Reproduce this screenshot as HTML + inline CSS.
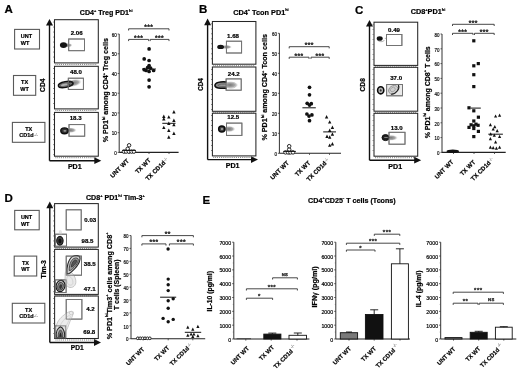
<!DOCTYPE html>
<html><head><meta charset="utf-8"><title>Figure</title><style>html,body{margin:0;padding:0;background:#fff;width:520px;height:371px;overflow:hidden}svg{display:block}</style></head><body>
<svg width="520" height="371" viewBox="0 0 520 371" font-family="'Liberation Sans', Arial, Helvetica, sans-serif" font-weight="bold">
<defs><radialGradient id="blobg"><stop offset="0" stop-color="#000"/><stop offset="0.55" stop-color="#111"/><stop offset="0.8" stop-color="#555"/><stop offset="1" stop-color="#999" stop-opacity="0"/></radialGradient><radialGradient id="blobl"><stop offset="0" stop-color="#777"/><stop offset="0.6" stop-color="#aaa"/><stop offset="1" stop-color="#ddd" stop-opacity="0"/></radialGradient></defs>
<style>text{stroke:#111;stroke-width:0.22px;paint-order:stroke}text.n{stroke:#222;stroke-width:0.2px}text.s{letter-spacing:0.45px;stroke:#222;stroke-width:0.3px;stroke-linejoin:round;text-rendering:geometricPrecision}</style>
<rect width="520" height="371" fill="#fff"/>
<text x="4.60" y="12.50" font-size="11.5">A</text>
<text x="198.90" y="12.90" font-size="11.5">B</text>
<text x="354.90" y="13.70" font-size="11.5">C</text>
<text x="4.40" y="202.30" font-size="11.5">D</text>
<text x="202.50" y="204.40" font-size="11.5">E</text>
<text x="79.80" y="14.80" font-size="7.1">CD4<tspan dy="-3.2" font-size="3.9">+</tspan><tspan dy="3.2"> Treg PD1</tspan><tspan dy="-3.2" font-size="3.9">hi</tspan></text>
<text x="233.20" y="14.50" font-size="7.3">CD4<tspan dy="-3.2" font-size="3.9">+</tspan><tspan dy="3.2"> Tcon PD1</tspan><tspan dy="-3.2" font-size="3.9">hi</tspan></text>
<text x="410.70" y="14.40" font-size="7.3">CD8<tspan dy="-3.2" font-size="3.9">+</tspan><tspan dy="3.2">PD1</tspan><tspan dy="-3.2" font-size="3.9">hi</tspan></text>
<text x="86.00" y="199.70" font-size="7.1">CD8<tspan dy="-3.2" font-size="3.9">+</tspan><tspan dy="3.2"> PD1</tspan><tspan dy="-3.2" font-size="3.9">hi</tspan><tspan dy="3.2"> Tim-3</tspan><tspan dy="-3.2" font-size="3.9">+</tspan></text>
<text x="308.10" y="202.50" font-size="7.15">CD4<tspan dy="-3.2" font-size="3.9">+</tspan><tspan dy="3.2">CD25</tspan><tspan dy="-3.2" font-size="3.9">-</tspan><tspan dy="3.2"> T cells (Tcons)</tspan></text>
<rect x="14.60" y="29.40" width="24.90" height="19.60" stroke="#5a5a5a" stroke-width="1.1" fill="none"/>
<text x="20.80" y="37.80" font-size="5.5">UNT</text>
<text x="20.80" y="44.60" font-size="5.5">WT</text>
<rect x="13.50" y="75.50" width="22.20" height="19.80" stroke="#5a5a5a" stroke-width="1.1" fill="none"/>
<text x="24.60" y="83.90" font-size="5.5" text-anchor="middle">TX</text>
<text x="24.60" y="90.70" font-size="5.5" text-anchor="middle">WT</text>
<rect x="12.40" y="122.40" width="32.50" height="19.90" stroke="#5a5a5a" stroke-width="1.1" fill="none"/>
<text x="28.65" y="130.80" font-size="5.5" text-anchor="middle">TX</text>
<text x="28.65" y="137.20" font-size="5.5" text-anchor="middle">CD1d<tspan dx="0.4" dy="-1.4" font-size="4.0" font-weight="normal" fill="#888" style="stroke:#aaa;stroke-width:0.1px">-/-</tspan></text>
<line x1="49.50" y1="24.00" x2="49.50" y2="160.70" stroke="#111" stroke-width="1.4"/>
<polygon points="46.00,25.60 49.50,19.00 53.00,25.60" fill="#111"/>
<line x1="49.50" y1="160.70" x2="95.30" y2="160.70" stroke="#111" stroke-width="1.4"/>
<polygon points="94.30,157.30 101.30,160.70 94.30,164.10" fill="#111"/>
<text transform="translate(45.30 85.20) rotate(-90)" font-size="6.7" text-anchor="middle" class="l">CD4</text>
<text x="74.80" y="169.30" font-size="7.1" text-anchor="middle" class="l">PD1</text>
<rect x="54.50" y="19.70" width="43.80" height="43.20" stroke="#262626" stroke-width="1.05" fill="none"/>
<line x1="55.50" y1="64.40" x2="97.30" y2="64.40" stroke="#555" stroke-width="0.9" stroke-dasharray="0.8 1.1"/>
<line x1="53.60" y1="21.70" x2="53.60" y2="61.90" stroke="#444" stroke-width="0.9" stroke-dasharray="0.7 4.3"/>
<rect x="54.50" y="66.30" width="43.80" height="42.60" stroke="#262626" stroke-width="1.05" fill="none"/>
<line x1="55.50" y1="110.40" x2="97.30" y2="110.40" stroke="#555" stroke-width="0.9" stroke-dasharray="0.8 1.1"/>
<line x1="53.60" y1="68.30" x2="53.60" y2="107.90" stroke="#444" stroke-width="0.9" stroke-dasharray="0.7 4.3"/>
<rect x="54.50" y="112.40" width="43.80" height="43.80" stroke="#262626" stroke-width="1.05" fill="none"/>
<line x1="55.50" y1="157.70" x2="97.30" y2="157.70" stroke="#555" stroke-width="0.9" stroke-dasharray="0.8 1.1"/>
<line x1="53.60" y1="114.40" x2="53.60" y2="155.20" stroke="#444" stroke-width="0.9" stroke-dasharray="0.7 4.3"/>
<rect x="68.70" y="39.00" width="15.80" height="11.70" stroke="#727272" stroke-width="0.9" fill="none"/>
<rect x="68.30" y="78.20" width="15.10" height="11.20" stroke="#727272" stroke-width="0.9" fill="none"/>
<rect x="69.00" y="124.60" width="15.70" height="11.60" stroke="#727272" stroke-width="0.9" fill="none"/>
<text x="76.60" y="34.50" font-size="6.1" text-anchor="middle">2.06</text>
<text x="76.00" y="74.20" font-size="6.1" text-anchor="middle">48.0</text>
<text x="75.60" y="120.40" font-size="6.1" text-anchor="middle">18.3</text>
<ellipse cx="68.00" cy="45.20" rx="4.50" ry="2.30" fill="url(#blobl)" transform="rotate(0 68.00 45.20)" opacity="1.0"/>
<ellipse cx="63.5" cy="45.1" rx="3.6" ry="2.9" fill="#141414"/>
<ellipse cx="73.50" cy="83.00" rx="8.50" ry="3.80" fill="url(#blobl)" transform="rotate(-12 73.50 83.00)" opacity="1.0"/>
<ellipse cx="65.6" cy="84.5" rx="7.4" ry="2.9" fill="#6a6a6a" stroke="#111" stroke-width="1.3" transform="rotate(-10 65.6 84.5)"/>
<ellipse cx="64.3" cy="84.8" rx="3.4" ry="1.0" fill="#b0b0b0" transform="rotate(-10 64.3 84.8)"/>
<ellipse cx="71.0" cy="83.6" rx="2.4" ry="1.9" fill="none" stroke="#222" stroke-width="0.9"/>
<ellipse cx="70.50" cy="130.20" rx="6.20" ry="2.80" fill="url(#blobl)" transform="rotate(0 70.50 130.20)" opacity="1.0"/>
<ellipse cx="64.5" cy="130.8" rx="3.7" ry="2.9" fill="#333" stroke="#0d0d0d" stroke-width="1.4"/>
<ellipse cx="64.9" cy="130.8" rx="1.5" ry="0.9" fill="#9a9a9a"/>
<rect x="68.70" y="39.00" width="15.80" height="11.70" stroke="#727272" stroke-width="0.9" fill="none"/>
<rect x="68.30" y="78.20" width="15.10" height="11.20" stroke="#727272" stroke-width="0.9" fill="none"/>
<rect x="69.00" y="124.60" width="15.70" height="11.60" stroke="#727272" stroke-width="0.9" fill="none"/>
<text transform="translate(107.80 90.20) rotate(-90)" font-size="7.12" text-anchor="middle">% PD1<tspan dy="-3.2" font-size="3.9">hi</tspan><tspan dy="3.2"> among CD4</tspan><tspan dy="-3.2" font-size="3.9">+</tspan><tspan dy="3.2"> Treg cells</tspan></text>
<line x1="119.20" y1="152.40" x2="119.20" y2="34.02" stroke="#333" stroke-width="1.0"/>
<line x1="117.70" y1="152.40" x2="119.20" y2="152.40" stroke="#333" stroke-width="0.8"/>
<text transform="translate(116.80 155.10) scale(0.8 1)" font-size="5.6" font-weight="normal" text-anchor="end" class="n">0</text>
<line x1="117.70" y1="132.67" x2="119.20" y2="132.67" stroke="#333" stroke-width="0.8"/>
<text transform="translate(116.80 135.37) scale(0.8 1)" font-size="5.6" font-weight="normal" text-anchor="end" class="n">10</text>
<line x1="117.70" y1="112.94" x2="119.20" y2="112.94" stroke="#333" stroke-width="0.8"/>
<text transform="translate(116.80 115.64) scale(0.8 1)" font-size="5.6" font-weight="normal" text-anchor="end" class="n">20</text>
<line x1="117.70" y1="93.21" x2="119.20" y2="93.21" stroke="#333" stroke-width="0.8"/>
<text transform="translate(116.80 95.91) scale(0.8 1)" font-size="5.6" font-weight="normal" text-anchor="end" class="n">30</text>
<line x1="117.70" y1="73.48" x2="119.20" y2="73.48" stroke="#333" stroke-width="0.8"/>
<text transform="translate(116.80 76.18) scale(0.8 1)" font-size="5.6" font-weight="normal" text-anchor="end" class="n">40</text>
<line x1="117.70" y1="53.75" x2="119.20" y2="53.75" stroke="#333" stroke-width="0.8"/>
<text transform="translate(116.80 56.45) scale(0.8 1)" font-size="5.6" font-weight="normal" text-anchor="end" class="n">50</text>
<line x1="117.70" y1="34.02" x2="119.20" y2="34.02" stroke="#333" stroke-width="0.8"/>
<text transform="translate(116.80 36.72) scale(0.8 1)" font-size="5.6" font-weight="normal" text-anchor="end" class="n">60</text>
<line x1="119.20" y1="152.40" x2="178.60" y2="152.40" stroke="#222" stroke-width="1.1"/>
<line x1="129.00" y1="152.40" x2="129.00" y2="154.00" stroke="#333" stroke-width="0.8"/>
<line x1="149.00" y1="152.40" x2="149.00" y2="154.00" stroke="#333" stroke-width="0.8"/>
<line x1="169.00" y1="152.40" x2="169.00" y2="154.00" stroke="#333" stroke-width="0.8"/>
<polyline points="128.60,30.50 128.60,28.80 169.00,28.80 169.00,30.50" fill="none" stroke="#333" stroke-width="0.9"/>
<text x="148.80" y="29.33" font-size="6.6" text-anchor="middle" fill="#222" class="s">***</text>
<polyline points="128.60,41.10 128.60,39.40 148.70,39.40 148.70,41.10" fill="none" stroke="#333" stroke-width="0.9"/>
<text x="138.65" y="39.93" font-size="6.6" text-anchor="middle" fill="#222" class="s">***</text>
<polyline points="150.20,41.10 150.20,39.40 169.00,39.40 169.00,41.10" fill="none" stroke="#333" stroke-width="0.9"/>
<text x="159.60" y="39.93" font-size="6.6" text-anchor="middle" fill="#222" class="s">***</text>
<circle cx="149.10" cy="48.90" r="1.85" fill="#111"/>
<circle cx="144.20" cy="58.90" r="1.85" fill="#111"/>
<circle cx="149.10" cy="60.50" r="1.85" fill="#111"/>
<circle cx="149.10" cy="65.60" r="1.85" fill="#111"/>
<circle cx="147.60" cy="67.50" r="1.85" fill="#111"/>
<circle cx="144.20" cy="69.70" r="1.85" fill="#111"/>
<circle cx="150.60" cy="68.20" r="1.85" fill="#111"/>
<circle cx="153.60" cy="70.50" r="1.85" fill="#111"/>
<circle cx="149.10" cy="71.50" r="1.85" fill="#111"/>
<circle cx="146.10" cy="70.50" r="1.85" fill="#111"/>
<circle cx="149.10" cy="80.10" r="1.85" fill="#111"/>
<circle cx="149.10" cy="86.80" r="1.85" fill="#111"/>
<line x1="142.00" y1="69.00" x2="156.00" y2="69.00" stroke="#111" stroke-width="0.9"/>
<polygon points="172.20,113.40 173.90,110.00 175.60,113.40" fill="#111"/>
<polygon points="162.10,118.00 163.80,114.60 165.50,118.00" fill="#111"/>
<polygon points="162.10,120.50 163.80,117.10 165.50,120.50" fill="#111"/>
<polygon points="167.10,118.60 168.80,115.20 170.50,118.60" fill="#111"/>
<polygon points="172.20,122.00 173.90,118.60 175.60,122.00" fill="#111"/>
<polygon points="167.10,125.00 168.80,121.60 170.50,125.00" fill="#111"/>
<polygon points="172.20,126.30 173.90,122.90 175.60,126.30" fill="#111"/>
<polygon points="162.10,129.10 163.80,125.70 165.50,129.10" fill="#111"/>
<polygon points="167.10,132.00 168.80,128.60 170.50,132.00" fill="#111"/>
<polygon points="172.20,134.90 173.90,131.50 175.60,134.90" fill="#111"/>
<polygon points="167.10,138.70 168.80,135.30 170.50,138.70" fill="#111"/>
<line x1="162.30" y1="123.30" x2="175.50" y2="123.30" stroke="#111" stroke-width="1.0"/>
<circle cx="123.90" cy="151.60" r="1.75" fill="white" stroke="#1a1a1a" stroke-width="0.95"/>
<circle cx="126.10" cy="151.60" r="1.75" fill="white" stroke="#1a1a1a" stroke-width="0.95"/>
<circle cx="128.80" cy="151.60" r="1.75" fill="white" stroke="#1a1a1a" stroke-width="0.95"/>
<circle cx="131.50" cy="151.60" r="1.75" fill="white" stroke="#1a1a1a" stroke-width="0.95"/>
<circle cx="133.90" cy="151.60" r="1.75" fill="white" stroke="#1a1a1a" stroke-width="0.95"/>
<circle cx="127.70" cy="148.80" r="1.75" fill="white" stroke="#1a1a1a" stroke-width="0.95"/>
<circle cx="129.10" cy="145.30" r="1.75" fill="white" stroke="#1a1a1a" stroke-width="0.95"/>
<line x1="122.30" y1="150.40" x2="135.80" y2="150.40" stroke="#111" stroke-width="1.0"/>
<text transform="translate(129.50 161.40) rotate(-45)" font-size="6.1" text-anchor="end">UNT WT</text>
<text transform="translate(151.10 160.70) rotate(-45)" font-size="6.1" text-anchor="end">TX WT</text>
<text transform="translate(169.00 160.00) rotate(-45)" font-size="6.1" text-anchor="end">TX CD1d<tspan dx="0.3" dy="-1.6" font-size="4.3" font-weight="normal" fill="#777" style="stroke:#999;stroke-width:0.1px">-/-</tspan></text>
<line x1="207.60" y1="23.60" x2="207.60" y2="159.60" stroke="#111" stroke-width="1.4"/>
<polygon points="204.10,25.20 207.60,18.60 211.10,25.20" fill="#111"/>
<line x1="207.60" y1="159.60" x2="252.00" y2="159.60" stroke="#111" stroke-width="1.4"/>
<polygon points="251.00,156.20 258.00,159.60 251.00,163.00" fill="#111"/>
<text transform="translate(202.70 84.50) rotate(-90)" font-size="6.3" text-anchor="middle" class="l">CD4</text>
<text x="232.60" y="168.10" font-size="7.1" text-anchor="middle" class="l">PD1</text>
<rect x="212.40" y="21.50" width="43.50" height="42.70" stroke="#262626" stroke-width="1.05" fill="none"/>
<line x1="213.40" y1="65.70" x2="254.90" y2="65.70" stroke="#555" stroke-width="0.9" stroke-dasharray="0.8 1.1"/>
<line x1="211.50" y1="23.50" x2="211.50" y2="63.20" stroke="#444" stroke-width="0.9" stroke-dasharray="0.7 4.3"/>
<rect x="212.40" y="67.00" width="43.50" height="44.30" stroke="#262626" stroke-width="1.05" fill="none"/>
<line x1="213.40" y1="112.80" x2="254.90" y2="112.80" stroke="#555" stroke-width="0.9" stroke-dasharray="0.8 1.1"/>
<line x1="211.50" y1="69.00" x2="211.50" y2="110.30" stroke="#444" stroke-width="0.9" stroke-dasharray="0.7 4.3"/>
<rect x="212.40" y="113.20" width="43.50" height="42.70" stroke="#262626" stroke-width="1.05" fill="none"/>
<line x1="213.40" y1="157.40" x2="254.90" y2="157.40" stroke="#555" stroke-width="0.9" stroke-dasharray="0.8 1.1"/>
<line x1="211.50" y1="115.20" x2="211.50" y2="154.90" stroke="#444" stroke-width="0.9" stroke-dasharray="0.7 4.3"/>
<rect x="226.40" y="41.20" width="15.20" height="11.80" stroke="#727272" stroke-width="0.9" fill="none"/>
<rect x="226.10" y="78.90" width="15.10" height="11.30" stroke="#727272" stroke-width="0.9" fill="none"/>
<rect x="226.50" y="123.10" width="15.40" height="12.30" stroke="#727272" stroke-width="0.9" fill="none"/>
<text x="233.00" y="38.00" font-size="6.1" text-anchor="middle">1.68</text>
<text x="233.70" y="75.50" font-size="6.1" text-anchor="middle">24.2</text>
<text x="233.20" y="119.10" font-size="6.1" text-anchor="middle">12.5</text>
<ellipse cx="226.50" cy="47.00" rx="5.50" ry="2.20" fill="url(#blobl)" transform="rotate(0 226.50 47.00)" opacity="1.0"/>
<ellipse cx="220.6" cy="46.9" rx="3.4" ry="2.2" fill="#141414"/>
<ellipse cx="230.00" cy="85.00" rx="8.50" ry="3.80" fill="url(#blobl)" transform="rotate(0 230.00 85.00)" opacity="1.0"/>
<ellipse cx="231.0" cy="85.2" rx="5.0" ry="2.9" fill="none" stroke="#b8b8b8" stroke-width="0.7"/>
<path d="M226.4,81.9 C220,81.3 215,82.6 214.9,85.2 C214.8,87.9 220,88.7 226.4,88.2" fill="#8a8a8a" stroke="#0f0f0f" stroke-width="1.5"/>
<path d="M226.2,84.3 C221.5,84 218.3,84.5 218.3,85.2 C218.3,86 221.5,86.2 226.2,86" fill="#c0c0c0" stroke="#444" stroke-width="0.7"/>
<ellipse cx="229.00" cy="129.00" rx="6.50" ry="3.20" fill="url(#blobl)" transform="rotate(0 229.00 129.00)" opacity="1.0"/>
<ellipse cx="221.8" cy="129.0" rx="3.1" ry="3.0" fill="#444" stroke="#0d0d0d" stroke-width="1.5"/>
<ellipse cx="222.0" cy="129.0" rx="1.2" ry="1.0" fill="#a5a5a5"/>
<rect x="226.40" y="41.20" width="15.20" height="11.80" stroke="#727272" stroke-width="0.9" fill="none"/>
<rect x="226.10" y="78.90" width="15.10" height="11.30" stroke="#727272" stroke-width="0.9" fill="none"/>
<rect x="226.50" y="123.10" width="15.40" height="12.30" stroke="#727272" stroke-width="0.9" fill="none"/>
<text transform="translate(267.30 87.30) rotate(-90)" font-size="7.18" text-anchor="middle">% PD1<tspan dy="-3.2" font-size="3.9">hi</tspan><tspan dy="3.2"> among CD4</tspan><tspan dy="-3.2" font-size="3.9">+</tspan><tspan dy="3.2"> Tcon cells</tspan></text>
<line x1="279.40" y1="153.30" x2="279.40" y2="33.30" stroke="#333" stroke-width="1.0"/>
<line x1="277.90" y1="153.30" x2="279.40" y2="153.30" stroke="#333" stroke-width="0.8"/>
<text transform="translate(277.00 156.00) scale(0.8 1)" font-size="5.6" font-weight="normal" text-anchor="end" class="n">0</text>
<line x1="277.90" y1="133.30" x2="279.40" y2="133.30" stroke="#333" stroke-width="0.8"/>
<text transform="translate(277.00 136.00) scale(0.8 1)" font-size="5.6" font-weight="normal" text-anchor="end" class="n">10</text>
<line x1="277.90" y1="113.30" x2="279.40" y2="113.30" stroke="#333" stroke-width="0.8"/>
<text transform="translate(277.00 116.00) scale(0.8 1)" font-size="5.6" font-weight="normal" text-anchor="end" class="n">20</text>
<line x1="277.90" y1="93.30" x2="279.40" y2="93.30" stroke="#333" stroke-width="0.8"/>
<text transform="translate(277.00 96.00) scale(0.8 1)" font-size="5.6" font-weight="normal" text-anchor="end" class="n">30</text>
<line x1="277.90" y1="73.30" x2="279.40" y2="73.30" stroke="#333" stroke-width="0.8"/>
<text transform="translate(277.00 76.00) scale(0.8 1)" font-size="5.6" font-weight="normal" text-anchor="end" class="n">40</text>
<line x1="277.90" y1="53.30" x2="279.40" y2="53.30" stroke="#333" stroke-width="0.8"/>
<text transform="translate(277.00 56.00) scale(0.8 1)" font-size="5.6" font-weight="normal" text-anchor="end" class="n">50</text>
<line x1="277.90" y1="33.30" x2="279.40" y2="33.30" stroke="#333" stroke-width="0.8"/>
<text transform="translate(277.00 36.00) scale(0.8 1)" font-size="5.6" font-weight="normal" text-anchor="end" class="n">60</text>
<line x1="279.40" y1="153.30" x2="341.00" y2="153.30" stroke="#222" stroke-width="1.1"/>
<line x1="289.20" y1="153.30" x2="289.20" y2="154.90" stroke="#333" stroke-width="0.8"/>
<line x1="309.50" y1="153.30" x2="309.50" y2="154.90" stroke="#333" stroke-width="0.8"/>
<line x1="329.50" y1="153.30" x2="329.50" y2="154.90" stroke="#333" stroke-width="0.8"/>
<polyline points="289.20,48.40 289.20,46.70 329.20,46.70 329.20,48.40" fill="none" stroke="#333" stroke-width="0.9"/>
<text x="309.20" y="47.23" font-size="6.6" text-anchor="middle" fill="#222" class="s">***</text>
<polyline points="289.20,58.90 289.20,57.20 309.00,57.20 309.00,58.90" fill="none" stroke="#333" stroke-width="0.9"/>
<text x="299.10" y="57.73" font-size="6.6" text-anchor="middle" fill="#222" class="s">***</text>
<polyline points="311.00,58.90 311.00,57.20 329.20,57.20 329.20,58.90" fill="none" stroke="#333" stroke-width="0.9"/>
<text x="320.10" y="57.73" font-size="6.6" text-anchor="middle" fill="#222" class="s">***</text>
<circle cx="309.50" cy="87.30" r="1.85" fill="#111"/>
<circle cx="309.50" cy="94.80" r="1.85" fill="#111"/>
<circle cx="307.20" cy="103.30" r="1.85" fill="#111"/>
<circle cx="311.30" cy="103.70" r="1.85" fill="#111"/>
<circle cx="309.50" cy="105.10" r="1.85" fill="#111"/>
<circle cx="306.90" cy="114.00" r="1.85" fill="#111"/>
<circle cx="311.90" cy="114.90" r="1.85" fill="#111"/>
<circle cx="309.00" cy="116.10" r="1.85" fill="#111"/>
<circle cx="309.50" cy="120.70" r="1.85" fill="#111"/>
<line x1="302.40" y1="107.80" x2="315.80" y2="107.80" stroke="#111" stroke-width="1.0"/>
<polygon points="324.90,118.40 326.60,115.00 328.30,118.40" fill="#111"/>
<polygon points="328.00,123.60 329.70,120.20 331.40,123.60" fill="#111"/>
<polygon points="330.70,129.00 332.40,125.60 334.10,129.00" fill="#111"/>
<polygon points="328.00,131.90 329.70,128.50 331.40,131.90" fill="#111"/>
<polygon points="325.30,138.00 327.00,134.60 328.70,138.00" fill="#111"/>
<polygon points="328.00,138.70 329.70,135.30 331.40,138.70" fill="#111"/>
<polygon points="330.70,135.70 332.40,132.30 334.10,135.70" fill="#111"/>
<polygon points="328.00,146.80 329.70,143.40 331.40,146.80" fill="#111"/>
<polygon points="330.70,145.40 332.40,142.00 334.10,145.40" fill="#111"/>
<line x1="323.20" y1="131.90" x2="336.00" y2="131.90" stroke="#111" stroke-width="1.0"/>
<circle cx="285.50" cy="152.40" r="1.75" fill="white" stroke="#1a1a1a" stroke-width="0.95"/>
<circle cx="288.00" cy="152.40" r="1.75" fill="white" stroke="#1a1a1a" stroke-width="0.95"/>
<circle cx="290.50" cy="152.40" r="1.75" fill="white" stroke="#1a1a1a" stroke-width="0.95"/>
<circle cx="293.00" cy="152.40" r="1.75" fill="white" stroke="#1a1a1a" stroke-width="0.95"/>
<circle cx="289.20" cy="149.50" r="1.75" fill="white" stroke="#1a1a1a" stroke-width="0.95"/>
<circle cx="289.20" cy="146.20" r="1.75" fill="white" stroke="#1a1a1a" stroke-width="0.95"/>
<line x1="283.30" y1="151.40" x2="295.90" y2="151.40" stroke="#111" stroke-width="1.0"/>
<text transform="translate(289.50 163.30) rotate(-45)" font-size="6.1" text-anchor="end">UNT WT</text>
<text transform="translate(310.80 163.30) rotate(-45)" font-size="6.1" text-anchor="end">TX WT</text>
<text transform="translate(330.00 160.60) rotate(-45)" font-size="6.1" text-anchor="end">TX CD1d<tspan dx="0.3" dy="-1.6" font-size="4.3" font-weight="normal" fill="#777" style="stroke:#999;stroke-width:0.1px">-/-</tspan></text>
<line x1="369.50" y1="25.00" x2="369.50" y2="160.20" stroke="#111" stroke-width="1.4"/>
<polygon points="366.00,26.60 369.50,20.00 373.00,26.60" fill="#111"/>
<line x1="369.50" y1="160.20" x2="415.20" y2="160.20" stroke="#111" stroke-width="1.4"/>
<polygon points="414.20,156.80 421.20,160.20 414.20,163.60" fill="#111"/>
<text transform="translate(364.80 84.80) rotate(-90)" font-size="6.6" text-anchor="middle" class="l">CD8</text>
<text x="395.20" y="168.50" font-size="7.1" text-anchor="middle" class="l">PD1</text>
<rect x="374.00" y="22.20" width="43.70" height="43.20" stroke="#262626" stroke-width="1.05" fill="none"/>
<line x1="375.00" y1="66.90" x2="416.70" y2="66.90" stroke="#555" stroke-width="0.9" stroke-dasharray="0.8 1.1"/>
<line x1="373.10" y1="24.20" x2="373.10" y2="64.40" stroke="#444" stroke-width="0.9" stroke-dasharray="0.7 4.3"/>
<rect x="374.00" y="67.30" width="43.70" height="43.90" stroke="#262626" stroke-width="1.05" fill="none"/>
<line x1="375.00" y1="112.70" x2="416.70" y2="112.70" stroke="#555" stroke-width="0.9" stroke-dasharray="0.8 1.1"/>
<line x1="373.10" y1="69.30" x2="373.10" y2="110.20" stroke="#444" stroke-width="0.9" stroke-dasharray="0.7 4.3"/>
<rect x="374.00" y="113.30" width="43.70" height="42.90" stroke="#262626" stroke-width="1.05" fill="none"/>
<line x1="375.00" y1="157.70" x2="416.70" y2="157.70" stroke="#555" stroke-width="0.9" stroke-dasharray="0.8 1.1"/>
<line x1="373.10" y1="115.30" x2="373.10" y2="155.20" stroke="#444" stroke-width="0.9" stroke-dasharray="0.7 4.3"/>
<rect x="386.50" y="34.50" width="15.40" height="11.00" stroke="#727272" stroke-width="0.9" fill="none"/>
<rect x="386.70" y="84.50" width="15.70" height="11.30" stroke="#727272" stroke-width="0.9" fill="none"/>
<rect x="389.00" y="132.30" width="16.00" height="11.90" stroke="#727272" stroke-width="0.9" fill="none"/>
<text x="394.00" y="31.50" font-size="6.1" text-anchor="middle">0.49</text>
<text x="396.10" y="79.60" font-size="6.1" text-anchor="middle">37.0</text>
<text x="396.70" y="129.50" font-size="6.1" text-anchor="middle">13.0</text>
<path d="M377.7,40.2 C379,42.3 383,42.2 384.6,40.0" fill="none" stroke="#aaa" stroke-width="0.9"/>
<ellipse cx="379.7" cy="38.5" rx="3.0" ry="2.3" fill="#111"/>
<ellipse cx="385.8" cy="38.3" rx="1.2" ry="0.6" fill="#bbb"/>
<rect x="387" y="85" width="14.4" height="10" fill="#e9e9e9"/>
<ellipse cx="393.3" cy="89.8" rx="5.0" ry="4.0" fill="#cfcfcf" stroke="#888" stroke-width="0.8" transform="rotate(-35 393.3 89.8)"/>
<path d="M398.3,85.0 C400.2,88.6 396.5,93.6 391.2,94.4" fill="none" stroke="#222" stroke-width="1.2"/>
<ellipse cx="392.8" cy="89.5" rx="2.6" ry="2.0" fill="none" stroke="#999" stroke-width="0.7" transform="rotate(-35 392.8 89.5)"/>
<ellipse cx="380.7" cy="90.3" rx="3.1" ry="3.6" fill="#b5b5b5" stroke="#0a0a0a" stroke-width="1.6"/>
<ellipse cx="380.7" cy="90.4" rx="1.0" ry="1.1" fill="#333"/>
<ellipse cx="391.00" cy="137.80" rx="7.00" ry="3.00" fill="url(#blobl)" transform="rotate(0 391.00 137.80)" opacity="1.0"/>
<ellipse cx="385.5" cy="137.6" rx="3.5" ry="3.0" fill="#222" stroke="#0d0d0d" stroke-width="1.0"/>
<ellipse cx="386.0" cy="137.5" rx="2.2" ry="0.5" fill="#8a8a8a"/>
<rect x="386.50" y="34.50" width="15.40" height="11.00" stroke="#727272" stroke-width="0.9" fill="none"/>
<rect x="386.70" y="84.50" width="15.70" height="11.30" stroke="#727272" stroke-width="0.9" fill="none"/>
<rect x="389.00" y="132.30" width="16.00" height="11.90" stroke="#727272" stroke-width="0.9" fill="none"/>
<text transform="translate(429.50 92.30) rotate(-90)" font-size="7.0" text-anchor="middle">% PD1<tspan dy="-3.2" font-size="3.9">hi</tspan><tspan dy="3.2"> among CD8</tspan><tspan dy="-3.2" font-size="3.9">+</tspan><tspan dy="3.2"> T cells</tspan></text>
<line x1="442.00" y1="152.40" x2="442.00" y2="34.00" stroke="#333" stroke-width="1.0"/>
<line x1="440.50" y1="152.40" x2="442.00" y2="152.40" stroke="#333" stroke-width="0.8"/>
<text transform="translate(439.60 155.10) scale(0.8 1)" font-size="5.6" font-weight="normal" text-anchor="end" class="n">0</text>
<line x1="440.50" y1="137.60" x2="442.00" y2="137.60" stroke="#333" stroke-width="0.8"/>
<text transform="translate(439.60 140.30) scale(0.8 1)" font-size="5.6" font-weight="normal" text-anchor="end" class="n">10</text>
<line x1="440.50" y1="122.80" x2="442.00" y2="122.80" stroke="#333" stroke-width="0.8"/>
<text transform="translate(439.60 125.50) scale(0.8 1)" font-size="5.6" font-weight="normal" text-anchor="end" class="n">20</text>
<line x1="440.50" y1="108.00" x2="442.00" y2="108.00" stroke="#333" stroke-width="0.8"/>
<text transform="translate(439.60 110.70) scale(0.8 1)" font-size="5.6" font-weight="normal" text-anchor="end" class="n">30</text>
<line x1="440.50" y1="93.20" x2="442.00" y2="93.20" stroke="#333" stroke-width="0.8"/>
<text transform="translate(439.60 95.90) scale(0.8 1)" font-size="5.6" font-weight="normal" text-anchor="end" class="n">40</text>
<line x1="440.50" y1="78.40" x2="442.00" y2="78.40" stroke="#333" stroke-width="0.8"/>
<text transform="translate(439.60 81.10) scale(0.8 1)" font-size="5.6" font-weight="normal" text-anchor="end" class="n">50</text>
<line x1="440.50" y1="63.60" x2="442.00" y2="63.60" stroke="#333" stroke-width="0.8"/>
<text transform="translate(439.60 66.30) scale(0.8 1)" font-size="5.6" font-weight="normal" text-anchor="end" class="n">60</text>
<line x1="440.50" y1="48.80" x2="442.00" y2="48.80" stroke="#333" stroke-width="0.8"/>
<text transform="translate(439.60 51.50) scale(0.8 1)" font-size="5.6" font-weight="normal" text-anchor="end" class="n">70</text>
<line x1="440.50" y1="34.00" x2="442.00" y2="34.00" stroke="#333" stroke-width="0.8"/>
<text transform="translate(439.60 36.70) scale(0.8 1)" font-size="5.6" font-weight="normal" text-anchor="end" class="n">80</text>
<line x1="442.00" y1="152.40" x2="505.70" y2="152.40" stroke="#222" stroke-width="1.1"/>
<line x1="453.50" y1="152.40" x2="453.50" y2="154.00" stroke="#333" stroke-width="0.8"/>
<line x1="474.00" y1="152.40" x2="474.00" y2="154.00" stroke="#333" stroke-width="0.8"/>
<line x1="494.50" y1="152.40" x2="494.50" y2="154.00" stroke="#333" stroke-width="0.8"/>
<polyline points="452.50,26.00 452.50,24.30 494.20,24.30 494.20,26.00" fill="none" stroke="#333" stroke-width="0.9"/>
<text x="473.35" y="24.83" font-size="6.6" text-anchor="middle" fill="#222" class="s">***</text>
<polyline points="452.50,35.00 452.50,33.30 473.00,33.30 473.00,35.00" fill="none" stroke="#333" stroke-width="0.9"/>
<text x="462.75" y="33.83" font-size="6.6" text-anchor="middle" fill="#222" class="s">***</text>
<polyline points="474.50,35.00 474.50,33.30 494.20,33.30 494.20,35.00" fill="none" stroke="#333" stroke-width="0.9"/>
<text x="484.35" y="33.83" font-size="6.6" text-anchor="middle" fill="#222" class="s">***</text>
<rect x="472.20" y="39.20" width="3.2" height="3.2" fill="#111"/>
<rect x="476.70" y="62.00" width="3.2" height="3.2" fill="#111"/>
<rect x="472.20" y="64.20" width="3.2" height="3.2" fill="#111"/>
<rect x="472.20" y="73.10" width="3.2" height="3.2" fill="#111"/>
<rect x="472.20" y="85.00" width="3.2" height="3.2" fill="#111"/>
<rect x="467.40" y="106.20" width="3.2" height="3.2" fill="#111"/>
<rect x="472.20" y="109.20" width="3.2" height="3.2" fill="#111"/>
<rect x="476.80" y="115.60" width="3.2" height="3.2" fill="#111"/>
<rect x="472.20" y="119.40" width="3.2" height="3.2" fill="#111"/>
<rect x="469.50" y="123.20" width="3.2" height="3.2" fill="#111"/>
<rect x="467.40" y="125.80" width="3.2" height="3.2" fill="#111"/>
<rect x="472.20" y="124.20" width="3.2" height="3.2" fill="#111"/>
<rect x="476.50" y="123.70" width="3.2" height="3.2" fill="#111"/>
<rect x="472.20" y="126.90" width="3.2" height="3.2" fill="#111"/>
<rect x="474.40" y="122.60" width="3.2" height="3.2" fill="#111"/>
<rect x="476.80" y="129.80" width="3.2" height="3.2" fill="#111"/>
<rect x="472.20" y="135.00" width="3.2" height="3.2" fill="#111"/>
<line x1="470.60" y1="108.10" x2="480.80" y2="108.10" stroke="#111" stroke-width="1.0"/>
<polygon points="494.00,117.60 495.60,114.40 497.20,117.60" fill="#111"/>
<polygon points="498.00,116.80 499.60,113.60 501.20,116.80" fill="#111"/>
<polygon points="488.80,126.20 490.40,123.00 492.00,126.20" fill="#111"/>
<polygon points="493.20,128.20 494.80,125.00 496.40,128.20" fill="#111"/>
<polygon points="491.60,130.60 493.20,127.40 494.80,130.60" fill="#111"/>
<polygon points="495.60,132.20 497.20,129.00 498.80,132.20" fill="#111"/>
<polygon points="489.10,135.40 490.70,132.20 492.30,135.40" fill="#111"/>
<polygon points="492.70,136.70 494.30,133.50 495.90,136.70" fill="#111"/>
<polygon points="498.00,137.90 499.60,134.70 501.20,137.90" fill="#111"/>
<polygon points="488.80,140.30 490.40,137.10 492.00,140.30" fill="#111"/>
<polygon points="494.00,143.50 495.60,140.30 497.20,143.50" fill="#111"/>
<polygon points="488.80,148.70 490.40,145.50 492.00,148.70" fill="#111"/>
<polygon points="491.60,149.20 493.20,146.00 494.80,149.20" fill="#111"/>
<polygon points="494.80,149.70 496.40,146.50 498.00,149.70" fill="#111"/>
<polygon points="498.00,148.70 499.60,145.50 501.20,148.70" fill="#111"/>
<line x1="488.30" y1="134.20" x2="502.90" y2="134.20" stroke="#111" stroke-width="1.0"/>
<ellipse cx="452.8" cy="151.2" rx="6.3" ry="1.7" fill="#111"/>
<text transform="translate(453.90 162.40) rotate(-45)" font-size="6.1" text-anchor="end">UNT WT</text>
<text transform="translate(475.80 162.60) rotate(-45)" font-size="6.1" text-anchor="end">TX WT</text>
<text transform="translate(494.30 160.20) rotate(-45)" font-size="6.1" text-anchor="end">TX CD1d<tspan dx="0.3" dy="-1.6" font-size="4.3" font-weight="normal" fill="#777" style="stroke:#999;stroke-width:0.1px">-/-</tspan></text>
<rect x="14.70" y="210.40" width="24.50" height="19.40" stroke="#5a5a5a" stroke-width="1.1" fill="none"/>
<text x="20.90" y="218.80" font-size="5.5">UNT</text>
<text x="20.90" y="225.60" font-size="5.5">WT</text>
<rect x="14.20" y="256.10" width="22.50" height="19.90" stroke="#5a5a5a" stroke-width="1.1" fill="none"/>
<text x="25.45" y="264.50" font-size="5.5" text-anchor="middle">TX</text>
<text x="25.45" y="271.30" font-size="5.5" text-anchor="middle">WT</text>
<rect x="12.30" y="303.30" width="32.50" height="19.70" stroke="#5a5a5a" stroke-width="1.1" fill="none"/>
<text x="28.55" y="311.70" font-size="5.5" text-anchor="middle">TX</text>
<text x="28.55" y="318.10" font-size="5.5" text-anchor="middle">CD1d<tspan dx="0.4" dy="-1.4" font-size="4.0" font-weight="normal" fill="#888" style="stroke:#aaa;stroke-width:0.1px">-/-</tspan></text>
<line x1="49.80" y1="206.60" x2="49.80" y2="342.50" stroke="#111" stroke-width="1.4"/>
<polygon points="46.30,208.20 49.80,201.60 53.30,208.20" fill="#111"/>
<line x1="49.80" y1="342.50" x2="95.00" y2="342.50" stroke="#111" stroke-width="1.4"/>
<polygon points="94.00,339.10 101.00,342.50 94.00,345.90" fill="#111"/>
<text transform="translate(46.20 269.30) rotate(-90)" font-size="6.9" text-anchor="middle" class="l">Tim-3</text>
<text x="77.20" y="350.40" font-size="6.6" text-anchor="middle" class="l">PD1</text>
<rect x="54.60" y="203.60" width="43.70" height="43.50" stroke="#262626" stroke-width="1.05" fill="none"/>
<line x1="55.60" y1="248.60" x2="97.30" y2="248.60" stroke="#555" stroke-width="0.9" stroke-dasharray="0.8 1.1"/>
<line x1="53.70" y1="205.60" x2="53.70" y2="246.10" stroke="#444" stroke-width="0.9" stroke-dasharray="0.7 4.3"/>
<rect x="54.60" y="249.40" width="43.70" height="45.00" stroke="#262626" stroke-width="1.05" fill="none"/>
<line x1="55.60" y1="295.90" x2="97.30" y2="295.90" stroke="#555" stroke-width="0.9" stroke-dasharray="0.8 1.1"/>
<line x1="53.70" y1="251.40" x2="53.70" y2="293.40" stroke="#444" stroke-width="0.9" stroke-dasharray="0.7 4.3"/>
<rect x="54.60" y="296.00" width="43.70" height="42.50" stroke="#262626" stroke-width="1.05" fill="none"/>
<line x1="55.60" y1="340.00" x2="97.30" y2="340.00" stroke="#555" stroke-width="0.9" stroke-dasharray="0.8 1.1"/>
<line x1="53.70" y1="298.00" x2="53.70" y2="337.50" stroke="#444" stroke-width="0.9" stroke-dasharray="0.7 4.3"/>
<rect x="66.20" y="209.80" width="15.00" height="20.10" stroke="#727272" stroke-width="0.9" fill="none"/>
<rect x="55.30" y="234.20" width="11.20" height="12.00" stroke="#727272" stroke-width="0.9" fill="none"/>
<rect x="66.20" y="256.10" width="15.30" height="19.10" stroke="#727272" stroke-width="0.9" fill="none"/>
<rect x="55.30" y="279.90" width="10.80" height="12.60" stroke="#727272" stroke-width="0.9" fill="none"/>
<rect x="66.20" y="299.50" width="15.70" height="19.60" stroke="#727272" stroke-width="0.9" fill="none"/>
<rect x="55.10" y="325.90" width="10.70" height="11.90" stroke="#727272" stroke-width="0.9" fill="none"/>
<text x="90.30" y="221.80" font-size="6.1" text-anchor="middle">0.03</text>
<text x="87.50" y="243.20" font-size="6.1" text-anchor="middle">98.5</text>
<text x="89.70" y="266.10" font-size="6.1" text-anchor="middle">38.5</text>
<text x="89.70" y="290.80" font-size="6.1" text-anchor="middle">47.1</text>
<text x="90.40" y="311.30" font-size="6.1" text-anchor="middle">4.2</text>
<text x="89.30" y="334.40" font-size="6.1" text-anchor="middle">69.8</text>
<ellipse cx="60.4" cy="233" rx="1.6" ry="3" fill="#e4e4e4"/>
<ellipse cx="59.9" cy="240.8" rx="3.2" ry="4.3" fill="#444" stroke="#111" stroke-width="1.1"/>
<ellipse cx="59.9" cy="241" rx="1.6" ry="2.6" fill="#111"/>
<path d="M66.5,271 C70,270 74,274 75.5,279 C77,284 74,288 70,287.5 C66.5,287 64.5,283 65,279 C65.4,275.5 64.5,271.8 66.5,271 Z" fill="#eaeaea" stroke="#b5b5b5" stroke-width="0.7"/>
<path d="M68,276 C71,276 73.5,280 72.8,283.5 C72,286 68.5,285.5 67.5,283 C66.6,280.5 66.4,276.4 68,276 Z" fill="none" stroke="#c4c4c4" stroke-width="0.6"/>
<path d="M67.0,274 C66.2,268 68.3,259 72.6,256.4 C75.8,254.6 80.4,255.4 80.1,258.6 C79.8,262.3 77.2,266.3 74.1,269.3 C71.6,271.8 68.8,274.6 67.0,274 Z" fill="#cfcfcf" stroke="#2a2a2a" stroke-width="1.1"/>
<path d="M69.2,270.5 C69,266 70.6,260.5 73.6,258.6 C76,257.3 78.7,258 78.4,260.2 C78.1,262.8 76.2,265.3 74,267.4 C72.2,269.1 70.4,271 69.2,270.5 Z" fill="#9a9a9a" stroke="#333" stroke-width="0.8"/>
<path d="M71.3,267 C71.4,264.2 72.6,261.2 74.4,260.2 C75.8,259.5 77,260 76.7,261.3 C76.4,262.8 75.2,264.3 73.9,265.5 C72.8,266.4 71.8,267.3 71.3,267 Z" fill="#555" stroke="#222" stroke-width="0.6"/>
<ellipse cx="60.5" cy="286" rx="4.4" ry="5.7" fill="#c8c8c8" stroke="#1a1a1a" stroke-width="1.2" transform="rotate(12 60.5 286)"/>
<ellipse cx="60.5" cy="286.3" rx="2.8" ry="4.0" fill="#888" stroke="#333" stroke-width="0.8" transform="rotate(12 60.5 286.3)"/>
<ellipse cx="60.6" cy="286.6" rx="1.4" ry="2.4" fill="#333" transform="rotate(12 60.6 286.6)"/>
<path d="M56,328 C56.5,322 60,318 64,315 C67,312.5 70.5,310.5 72.5,312 C74,314 71.5,318 70,321.5 C68.5,325 67.5,330 65,332 C61,334 56,333 56,328 Z" fill="#ececec" stroke="#b8b8b8" stroke-width="0.7"/>
<path d="M60,326 C61.5,322 65,318.5 68,316 C70,315 71,316 70,318 C68.5,321 67,325 65,327.5 C63,329 60,328.5 60,326 Z" fill="none" stroke="#c6c6c6" stroke-width="0.6"/>
<ellipse cx="71.5" cy="313" rx="2.2" ry="1.8" fill="none" stroke="#bdbdbd" stroke-width="0.6"/>
<path d="M56.3,337.6 C55.8,333 57.2,328.2 60.4,326.8 C63.6,328 65.2,332.8 64.7,337.6 Z" fill="#bcbcbc" stroke="#1e1e1e" stroke-width="1.1"/>
<path d="M58.2,337 C58,334 58.8,330.8 60.5,329.8 C62.2,330.8 63,334 62.8,337 Z" fill="#777" stroke="#333" stroke-width="0.7"/>
<path d="M59.5,336.8 C59.4,335 59.8,333.2 60.5,332.6 C61.2,333.2 61.6,335 61.5,336.8 Z" fill="#222"/>
<rect x="66.20" y="209.80" width="15.00" height="20.10" stroke="#727272" stroke-width="0.9" fill="none"/>
<rect x="55.30" y="234.20" width="11.20" height="12.00" stroke="#727272" stroke-width="0.9" fill="none"/>
<rect x="66.20" y="256.10" width="15.30" height="19.10" stroke="#727272" stroke-width="0.9" fill="none"/>
<rect x="55.30" y="279.90" width="10.80" height="12.60" stroke="#727272" stroke-width="0.9" fill="none"/>
<rect x="66.20" y="299.50" width="15.70" height="19.60" stroke="#727272" stroke-width="0.9" fill="none"/>
<rect x="55.10" y="325.90" width="10.70" height="11.90" stroke="#727272" stroke-width="0.9" fill="none"/>
<text transform="translate(111.60 285.90) rotate(-90)" font-size="7.18" text-anchor="middle">% PD1<tspan dy="-3.2" font-size="3.9">hi</tspan><tspan dy="3.2">Tim3</tspan><tspan dy="-3.2" font-size="3.9">+</tspan><tspan dy="3.2"> cells among CD8</tspan><tspan dy="-3.2" font-size="3.9">+</tspan></text>
<text transform="translate(118.90 284.80) rotate(-90)" font-size="6.9" text-anchor="middle">T cells (Spleen)</text>
<line x1="131.00" y1="338.70" x2="131.00" y2="235.50" stroke="#333" stroke-width="1.0"/>
<line x1="129.50" y1="338.70" x2="131.00" y2="338.70" stroke="#333" stroke-width="0.8"/>
<text transform="translate(128.60 341.40) scale(0.8 1)" font-size="5.6" font-weight="normal" text-anchor="end" class="n">0</text>
<line x1="129.50" y1="325.80" x2="131.00" y2="325.80" stroke="#333" stroke-width="0.8"/>
<text transform="translate(128.60 328.50) scale(0.8 1)" font-size="5.6" font-weight="normal" text-anchor="end" class="n">10</text>
<line x1="129.50" y1="312.90" x2="131.00" y2="312.90" stroke="#333" stroke-width="0.8"/>
<text transform="translate(128.60 315.60) scale(0.8 1)" font-size="5.6" font-weight="normal" text-anchor="end" class="n">20</text>
<line x1="129.50" y1="300.00" x2="131.00" y2="300.00" stroke="#333" stroke-width="0.8"/>
<text transform="translate(128.60 302.70) scale(0.8 1)" font-size="5.6" font-weight="normal" text-anchor="end" class="n">30</text>
<line x1="129.50" y1="287.10" x2="131.00" y2="287.10" stroke="#333" stroke-width="0.8"/>
<text transform="translate(128.60 289.80) scale(0.8 1)" font-size="5.6" font-weight="normal" text-anchor="end" class="n">40</text>
<line x1="129.50" y1="274.20" x2="131.00" y2="274.20" stroke="#333" stroke-width="0.8"/>
<text transform="translate(128.60 276.90) scale(0.8 1)" font-size="5.6" font-weight="normal" text-anchor="end" class="n">50</text>
<line x1="129.50" y1="261.30" x2="131.00" y2="261.30" stroke="#333" stroke-width="0.8"/>
<text transform="translate(128.60 264.00) scale(0.8 1)" font-size="5.6" font-weight="normal" text-anchor="end" class="n">60</text>
<line x1="129.50" y1="248.40" x2="131.00" y2="248.40" stroke="#333" stroke-width="0.8"/>
<text transform="translate(128.60 251.10) scale(0.8 1)" font-size="5.6" font-weight="normal" text-anchor="end" class="n">70</text>
<line x1="129.50" y1="235.50" x2="131.00" y2="235.50" stroke="#333" stroke-width="0.8"/>
<text transform="translate(128.60 238.20) scale(0.8 1)" font-size="5.6" font-weight="normal" text-anchor="end" class="n">80</text>
<line x1="131.00" y1="338.70" x2="205.20" y2="338.70" stroke="#222" stroke-width="1.1"/>
<line x1="143.50" y1="338.70" x2="143.50" y2="340.30" stroke="#333" stroke-width="0.8"/>
<line x1="168.20" y1="338.70" x2="168.20" y2="340.30" stroke="#333" stroke-width="0.8"/>
<line x1="192.80" y1="338.70" x2="192.80" y2="340.30" stroke="#333" stroke-width="0.8"/>
<polyline points="141.90,237.30 141.90,235.60 193.40,235.60 193.40,237.30" fill="none" stroke="#333" stroke-width="0.9"/>
<text x="167.65" y="236.13" font-size="6.6" text-anchor="middle" fill="#222" class="s">**</text>
<polyline points="141.90,245.60 141.90,243.90 166.00,243.90 166.00,245.60" fill="none" stroke="#333" stroke-width="0.9"/>
<text x="153.95" y="244.43" font-size="6.6" text-anchor="middle" fill="#222" class="s">***</text>
<polyline points="169.40,245.60 169.40,243.90 193.40,243.90 193.40,245.60" fill="none" stroke="#333" stroke-width="0.9"/>
<text x="181.40" y="244.43" font-size="6.6" text-anchor="middle" fill="#222" class="s">***</text>
<circle cx="168.10" cy="249.00" r="1.7" fill="#111"/>
<circle cx="168.20" cy="279.10" r="1.7" fill="#111"/>
<circle cx="168.20" cy="284.70" r="1.7" fill="#111"/>
<circle cx="168.20" cy="290.60" r="1.7" fill="#111"/>
<circle cx="168.20" cy="300.70" r="1.7" fill="#111"/>
<circle cx="173.20" cy="298.80" r="1.7" fill="#111"/>
<circle cx="168.20" cy="308.30" r="1.7" fill="#111"/>
<circle cx="163.10" cy="318.40" r="1.7" fill="#111"/>
<circle cx="168.20" cy="321.80" r="1.7" fill="#111"/>
<circle cx="173.20" cy="319.40" r="1.7" fill="#111"/>
<line x1="160.10" y1="297.20" x2="176.20" y2="297.20" stroke="#111" stroke-width="1.0"/>
<polygon points="186.20,328.70 187.80,325.50 189.40,328.70" fill="#111"/>
<polygon points="196.30,327.90 197.90,324.70 199.50,327.90" fill="#111"/>
<polygon points="191.20,330.70 192.80,327.50 194.40,330.70" fill="#111"/>
<polygon points="186.20,336.80 187.80,333.60 189.40,336.80" fill="#111"/>
<polygon points="189.50,335.60 191.10,332.40 192.70,335.60" fill="#111"/>
<polygon points="192.30,335.60 193.90,332.40 195.50,335.60" fill="#111"/>
<polygon points="196.30,337.20 197.90,334.00 199.50,337.20" fill="#111"/>
<polygon points="191.20,338.00 192.80,334.80 194.40,338.00" fill="#111"/>
<line x1="184.80" y1="332.30" x2="201.20" y2="332.30" stroke="#111" stroke-width="1.0"/>
<circle cx="137.80" cy="338.30" r="1.35" fill="white" stroke="#1a1a1a" stroke-width="0.95"/>
<circle cx="140.20" cy="338.30" r="1.35" fill="white" stroke="#1a1a1a" stroke-width="0.95"/>
<circle cx="142.60" cy="338.30" r="1.35" fill="white" stroke="#1a1a1a" stroke-width="0.95"/>
<circle cx="145.00" cy="338.30" r="1.35" fill="white" stroke="#1a1a1a" stroke-width="0.95"/>
<circle cx="147.40" cy="338.30" r="1.35" fill="white" stroke="#1a1a1a" stroke-width="0.95"/>
<circle cx="149.80" cy="338.30" r="1.35" fill="white" stroke="#1a1a1a" stroke-width="0.95"/>
<text transform="translate(144.80 349.60) rotate(-45)" font-size="5.9" text-anchor="end">UNT WT</text>
<text transform="translate(169.70 348.30) rotate(-45)" font-size="5.9" text-anchor="end">TX WT</text>
<text transform="translate(192.70 345.60) rotate(-45)" font-size="5.9" text-anchor="end">TX CD1d<tspan dx="0.3" dy="-1.6" font-size="4.3" font-weight="normal" fill="#777" style="stroke:#999;stroke-width:0.1px">-/-</tspan></text>
<text transform="translate(212.10 291.30) rotate(-90)" font-size="6.8" text-anchor="middle">IL-10 (pg/ml)</text>
<line x1="233.80" y1="339.00" x2="233.80" y2="242.19" stroke="#333" stroke-width="1.0"/>
<line x1="232.20" y1="339.00" x2="233.80" y2="339.00" stroke="#333" stroke-width="0.8"/>
<text x="231.20" y="341.60" font-size="5.3" font-weight="normal" text-anchor="end" class="n">0</text>
<line x1="232.20" y1="325.17" x2="233.80" y2="325.17" stroke="#333" stroke-width="0.8"/>
<text x="231.20" y="327.77" font-size="5.3" font-weight="normal" text-anchor="end" class="n">1000</text>
<line x1="232.20" y1="311.34" x2="233.80" y2="311.34" stroke="#333" stroke-width="0.8"/>
<text x="231.20" y="313.94" font-size="5.3" font-weight="normal" text-anchor="end" class="n">2000</text>
<line x1="232.20" y1="297.51" x2="233.80" y2="297.51" stroke="#333" stroke-width="0.8"/>
<text x="231.20" y="300.11" font-size="5.3" font-weight="normal" text-anchor="end" class="n">3000</text>
<line x1="232.20" y1="283.68" x2="233.80" y2="283.68" stroke="#333" stroke-width="0.8"/>
<text x="231.20" y="286.28" font-size="5.3" font-weight="normal" text-anchor="end" class="n">4000</text>
<line x1="232.20" y1="269.85" x2="233.80" y2="269.85" stroke="#333" stroke-width="0.8"/>
<text x="231.20" y="272.45" font-size="5.3" font-weight="normal" text-anchor="end" class="n">5000</text>
<line x1="232.20" y1="256.02" x2="233.80" y2="256.02" stroke="#333" stroke-width="0.8"/>
<text x="231.20" y="258.62" font-size="5.3" font-weight="normal" text-anchor="end" class="n">6000</text>
<line x1="232.20" y1="242.19" x2="233.80" y2="242.19" stroke="#333" stroke-width="0.8"/>
<text x="231.20" y="244.79" font-size="5.3" font-weight="normal" text-anchor="end" class="n">7000</text>
<line x1="232.80" y1="332.08" x2="233.80" y2="332.08" stroke="#555" stroke-width="0.6"/>
<line x1="232.80" y1="318.25" x2="233.80" y2="318.25" stroke="#555" stroke-width="0.6"/>
<line x1="232.80" y1="304.43" x2="233.80" y2="304.43" stroke="#555" stroke-width="0.6"/>
<line x1="232.80" y1="290.60" x2="233.80" y2="290.60" stroke="#555" stroke-width="0.6"/>
<line x1="232.80" y1="276.76" x2="233.80" y2="276.76" stroke="#555" stroke-width="0.6"/>
<line x1="232.80" y1="262.94" x2="233.80" y2="262.94" stroke="#555" stroke-width="0.6"/>
<line x1="232.80" y1="249.11" x2="233.80" y2="249.11" stroke="#555" stroke-width="0.6"/>
<text transform="translate(317.30 286.90) rotate(-90)" font-size="7.2" text-anchor="middle">IFN<tspan font-weight="normal">γ</tspan> (pg/ml)</text>
<line x1="335.80" y1="339.00" x2="335.80" y2="242.19" stroke="#333" stroke-width="1.0"/>
<line x1="334.20" y1="339.00" x2="335.80" y2="339.00" stroke="#333" stroke-width="0.8"/>
<text x="333.20" y="341.60" font-size="5.3" font-weight="normal" text-anchor="end" class="n">0</text>
<line x1="334.20" y1="325.17" x2="335.80" y2="325.17" stroke="#333" stroke-width="0.8"/>
<text x="333.20" y="327.77" font-size="5.3" font-weight="normal" text-anchor="end" class="n">1000</text>
<line x1="334.20" y1="311.34" x2="335.80" y2="311.34" stroke="#333" stroke-width="0.8"/>
<text x="333.20" y="313.94" font-size="5.3" font-weight="normal" text-anchor="end" class="n">2000</text>
<line x1="334.20" y1="297.51" x2="335.80" y2="297.51" stroke="#333" stroke-width="0.8"/>
<text x="333.20" y="300.11" font-size="5.3" font-weight="normal" text-anchor="end" class="n">3000</text>
<line x1="334.20" y1="283.68" x2="335.80" y2="283.68" stroke="#333" stroke-width="0.8"/>
<text x="333.20" y="286.28" font-size="5.3" font-weight="normal" text-anchor="end" class="n">4000</text>
<line x1="334.20" y1="269.85" x2="335.80" y2="269.85" stroke="#333" stroke-width="0.8"/>
<text x="333.20" y="272.45" font-size="5.3" font-weight="normal" text-anchor="end" class="n">5000</text>
<line x1="334.20" y1="256.02" x2="335.80" y2="256.02" stroke="#333" stroke-width="0.8"/>
<text x="333.20" y="258.62" font-size="5.3" font-weight="normal" text-anchor="end" class="n">6000</text>
<line x1="334.20" y1="242.19" x2="335.80" y2="242.19" stroke="#333" stroke-width="0.8"/>
<text x="333.20" y="244.79" font-size="5.3" font-weight="normal" text-anchor="end" class="n">7000</text>
<line x1="334.80" y1="332.08" x2="335.80" y2="332.08" stroke="#555" stroke-width="0.6"/>
<line x1="334.80" y1="318.25" x2="335.80" y2="318.25" stroke="#555" stroke-width="0.6"/>
<line x1="334.80" y1="304.43" x2="335.80" y2="304.43" stroke="#555" stroke-width="0.6"/>
<line x1="334.80" y1="290.60" x2="335.80" y2="290.60" stroke="#555" stroke-width="0.6"/>
<line x1="334.80" y1="276.76" x2="335.80" y2="276.76" stroke="#555" stroke-width="0.6"/>
<line x1="334.80" y1="262.94" x2="335.80" y2="262.94" stroke="#555" stroke-width="0.6"/>
<line x1="334.80" y1="249.11" x2="335.80" y2="249.11" stroke="#555" stroke-width="0.6"/>
<text transform="translate(421.40 288.90) rotate(-90)" font-size="6.8" text-anchor="middle">IL-4 (pg/ml)</text>
<line x1="440.70" y1="339.00" x2="440.70" y2="242.19" stroke="#333" stroke-width="1.0"/>
<line x1="439.10" y1="339.00" x2="440.70" y2="339.00" stroke="#333" stroke-width="0.8"/>
<text x="438.10" y="341.60" font-size="5.3" font-weight="normal" text-anchor="end" class="n">0</text>
<line x1="439.10" y1="325.17" x2="440.70" y2="325.17" stroke="#333" stroke-width="0.8"/>
<text x="438.10" y="327.77" font-size="5.3" font-weight="normal" text-anchor="end" class="n">1000</text>
<line x1="439.10" y1="311.34" x2="440.70" y2="311.34" stroke="#333" stroke-width="0.8"/>
<text x="438.10" y="313.94" font-size="5.3" font-weight="normal" text-anchor="end" class="n">2000</text>
<line x1="439.10" y1="297.51" x2="440.70" y2="297.51" stroke="#333" stroke-width="0.8"/>
<text x="438.10" y="300.11" font-size="5.3" font-weight="normal" text-anchor="end" class="n">3000</text>
<line x1="439.10" y1="283.68" x2="440.70" y2="283.68" stroke="#333" stroke-width="0.8"/>
<text x="438.10" y="286.28" font-size="5.3" font-weight="normal" text-anchor="end" class="n">4000</text>
<line x1="439.10" y1="269.85" x2="440.70" y2="269.85" stroke="#333" stroke-width="0.8"/>
<text x="438.10" y="272.45" font-size="5.3" font-weight="normal" text-anchor="end" class="n">5000</text>
<line x1="439.10" y1="256.02" x2="440.70" y2="256.02" stroke="#333" stroke-width="0.8"/>
<text x="438.10" y="258.62" font-size="5.3" font-weight="normal" text-anchor="end" class="n">6000</text>
<line x1="439.10" y1="242.19" x2="440.70" y2="242.19" stroke="#333" stroke-width="0.8"/>
<text x="438.10" y="244.79" font-size="5.3" font-weight="normal" text-anchor="end" class="n">7000</text>
<line x1="439.70" y1="332.08" x2="440.70" y2="332.08" stroke="#555" stroke-width="0.6"/>
<line x1="439.70" y1="318.25" x2="440.70" y2="318.25" stroke="#555" stroke-width="0.6"/>
<line x1="439.70" y1="304.43" x2="440.70" y2="304.43" stroke="#555" stroke-width="0.6"/>
<line x1="439.70" y1="290.60" x2="440.70" y2="290.60" stroke="#555" stroke-width="0.6"/>
<line x1="439.70" y1="276.76" x2="440.70" y2="276.76" stroke="#555" stroke-width="0.6"/>
<line x1="439.70" y1="262.94" x2="440.70" y2="262.94" stroke="#555" stroke-width="0.6"/>
<line x1="439.70" y1="249.11" x2="440.70" y2="249.11" stroke="#555" stroke-width="0.6"/>
<line x1="233.80" y1="339.00" x2="309.40" y2="339.00" stroke="#222" stroke-width="1.1"/>
<line x1="245.80" y1="339.00" x2="245.80" y2="340.60" stroke="#333" stroke-width="0.8"/>
<line x1="271.20" y1="339.00" x2="271.20" y2="340.60" stroke="#333" stroke-width="0.8"/>
<line x1="297.00" y1="339.00" x2="297.00" y2="340.60" stroke="#333" stroke-width="0.8"/>
<line x1="236.60" y1="338.70" x2="251.00" y2="338.70" stroke="#444" stroke-width="1.0"/>
<rect x="263.80" y="334.10" width="17.10" height="4.90" fill="#111" stroke="#111" stroke-width="0.9"/>
<line x1="272.30" y1="334.10" x2="272.30" y2="333.10" stroke="#111" stroke-width="0.9"/>
<line x1="268.30" y1="333.10" x2="276.30" y2="333.10" stroke="#111" stroke-width="0.9"/>
<rect x="289.00" y="335.30" width="17.50" height="3.70" fill="#fff" stroke="#111" stroke-width="0.9"/>
<line x1="297.80" y1="335.30" x2="297.80" y2="333.00" stroke="#111" stroke-width="0.9"/>
<line x1="293.80" y1="333.00" x2="301.80" y2="333.00" stroke="#111" stroke-width="0.9"/>
<polyline points="246.40,299.90 246.40,298.20 272.60,298.20 272.60,299.90" fill="none" stroke="#333" stroke-width="0.9"/>
<text x="259.50" y="298.38" font-size="6.0" text-anchor="middle" fill="#222" class="s">*</text>
<polyline points="246.40,290.50 246.40,288.80 297.40,288.80 297.40,290.50" fill="none" stroke="#333" stroke-width="0.9"/>
<text x="271.90" y="288.98" font-size="6.0" text-anchor="middle" fill="#222" class="s">***</text>
<polyline points="272.60,279.50 272.60,277.80 297.40,277.80 297.40,279.50" fill="none" stroke="#333" stroke-width="0.9"/>
<text x="285.00" y="275.80" font-size="4.2" text-anchor="middle" fill="#222" class="s">NS</text>
<text transform="translate(249.50 348.80) rotate(-45)" font-size="5.9" text-anchor="end">UNT WT</text>
<text transform="translate(274.50 347.80) rotate(-45)" font-size="5.9" text-anchor="end">TX WT</text>
<text transform="translate(297.00 348.00) rotate(-45)" font-size="5.9" text-anchor="end">TX CD1d<tspan dx="1.3" dy="-3.0" font-size="4.2" font-weight="normal" fill="#555" style="stroke:#777;stroke-width:0.1px">-/-</tspan></text>
<line x1="335.80" y1="339.00" x2="410.00" y2="339.00" stroke="#222" stroke-width="1.1"/>
<line x1="349.00" y1="339.00" x2="349.00" y2="340.60" stroke="#333" stroke-width="0.8"/>
<line x1="374.20" y1="339.00" x2="374.20" y2="340.60" stroke="#333" stroke-width="0.8"/>
<line x1="400.00" y1="339.00" x2="400.00" y2="340.60" stroke="#333" stroke-width="0.8"/>
<rect x="340.30" y="332.70" width="17.30" height="6.30" fill="#7a7a7a" stroke="#111" stroke-width="0.9"/>
<line x1="349.00" y1="332.70" x2="349.00" y2="332.00" stroke="#111" stroke-width="0.9"/>
<line x1="346.00" y1="332.00" x2="352.00" y2="332.00" stroke="#111" stroke-width="0.9"/>
<rect x="365.40" y="314.50" width="17.60" height="24.50" fill="#111" stroke="#111" stroke-width="0.9"/>
<line x1="374.20" y1="314.50" x2="374.20" y2="309.80" stroke="#111" stroke-width="0.9"/>
<line x1="370.20" y1="309.80" x2="378.20" y2="309.80" stroke="#111" stroke-width="0.9"/>
<rect x="391.40" y="263.80" width="17.00" height="75.20" fill="#fff" stroke="#111" stroke-width="0.9"/>
<line x1="399.90" y1="263.80" x2="399.90" y2="248.80" stroke="#111" stroke-width="0.9"/>
<line x1="395.90" y1="248.80" x2="403.90" y2="248.80" stroke="#111" stroke-width="0.9"/>
<polyline points="346.40,251.70 346.40,250.00 375.00,250.00 375.00,251.70" fill="none" stroke="#333" stroke-width="0.9"/>
<text x="360.70" y="250.18" font-size="6.0" text-anchor="middle" fill="#222" class="s">*</text>
<polyline points="346.40,244.90 346.40,243.20 399.80,243.20 399.80,244.90" fill="none" stroke="#333" stroke-width="0.9"/>
<text x="373.10" y="243.38" font-size="6.0" text-anchor="middle" fill="#222" class="s">***</text>
<polyline points="374.30,235.90 374.30,234.20 399.80,234.20 399.80,235.90" fill="none" stroke="#333" stroke-width="0.9"/>
<text x="387.05" y="234.38" font-size="6.0" text-anchor="middle" fill="#222" class="s">***</text>
<text transform="translate(351.50 348.90) rotate(-45)" font-size="5.9" text-anchor="end">UNT WT</text>
<text transform="translate(376.50 348.90) rotate(-45)" font-size="5.9" text-anchor="end">TX WT</text>
<text transform="translate(399.30 347.10) rotate(-45)" font-size="5.9" text-anchor="end">TX CD1d<tspan dx="1.3" dy="-3.0" font-size="4.2" font-weight="normal" fill="#555" style="stroke:#777;stroke-width:0.1px">-/-</tspan></text>
<line x1="440.70" y1="339.00" x2="516.30" y2="339.00" stroke="#222" stroke-width="1.1"/>
<line x1="453.50" y1="339.00" x2="453.50" y2="340.60" stroke="#333" stroke-width="0.8"/>
<line x1="478.70" y1="339.00" x2="478.70" y2="340.60" stroke="#333" stroke-width="0.8"/>
<line x1="503.80" y1="339.00" x2="503.80" y2="340.60" stroke="#333" stroke-width="0.8"/>
<rect x="445.00" y="337.60" width="17.00" height="1.40" fill="#7a7a7a" stroke="#111" stroke-width="0.9"/>
<rect x="470.20" y="332.30" width="17.00" height="6.70" fill="#111" stroke="#111" stroke-width="0.9"/>
<line x1="478.70" y1="332.30" x2="478.70" y2="331.30" stroke="#111" stroke-width="0.9"/>
<line x1="474.70" y1="331.30" x2="482.70" y2="331.30" stroke="#111" stroke-width="0.9"/>
<rect x="495.40" y="327.20" width="16.80" height="11.80" fill="#fff" stroke="#111" stroke-width="0.9"/>
<line x1="503.80" y1="327.20" x2="503.80" y2="326.70" stroke="#111" stroke-width="0.9"/>
<line x1="499.80" y1="326.70" x2="507.80" y2="326.70" stroke="#111" stroke-width="0.9"/>
<polyline points="453.20,304.90 453.20,303.20 478.00,303.20 478.00,304.90" fill="none" stroke="#333" stroke-width="0.9"/>
<text x="465.60" y="303.38" font-size="6.0" text-anchor="middle" fill="#222" class="s">**</text>
<polyline points="479.20,304.90 479.20,303.20 503.40,303.20 503.40,304.90" fill="none" stroke="#333" stroke-width="0.9"/>
<text x="491.30" y="301.20" font-size="4.2" text-anchor="middle" fill="#222" class="s">NS</text>
<polyline points="453.20,293.90 453.20,292.20 503.40,292.20 503.40,293.90" fill="none" stroke="#333" stroke-width="0.9"/>
<text x="478.30" y="292.38" font-size="6.0" text-anchor="middle" fill="#222" class="s">***</text>
<text transform="translate(455.80 349.40) rotate(-45)" font-size="5.9" text-anchor="end">UNT WT</text>
<text transform="translate(480.90 348.90) rotate(-45)" font-size="5.9" text-anchor="end">TX WT</text>
<text transform="translate(503.60 346.60) rotate(-45)" font-size="5.9" text-anchor="end">TX CD1d<tspan dx="1.3" dy="-3.0" font-size="4.2" font-weight="normal" fill="#555" style="stroke:#777;stroke-width:0.1px">-/-</tspan></text>
</svg>
</body></html>
